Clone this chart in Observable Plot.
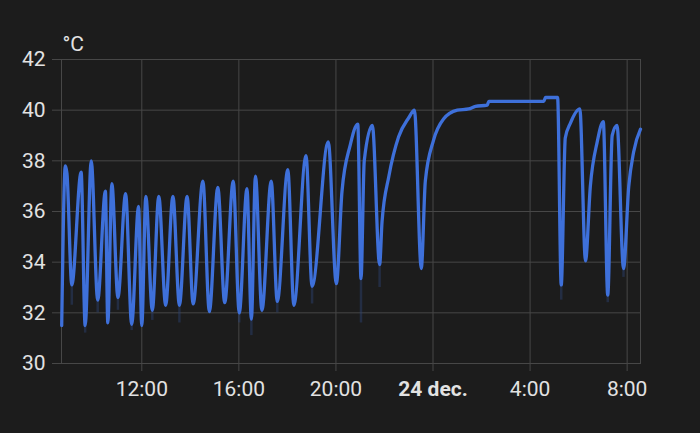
<!DOCTYPE html>
<html>
<head>
<meta charset="utf-8">
<script src="https://cdn.jsdelivr.net/npm/d3@7"></script>
<script src="https://cdn.jsdelivr.net/npm/@observablehq/plot@0.6"></script>
<style>
  html, body { margin: 0; padding: 0; background: #1c1c1c; }
  #chart { width: 700px; height: 433px; }
</style>
</head>
<body>
<div id="chart"></div>
<script>
const times = [
  "2023-12-23T08:42", "2023-12-23T08:51", "2023-12-23T08:55", "2023-12-23T09:07",
  "2023-12-23T09:30", "2023-12-23T09:40", "2023-12-23T09:55", "2023-12-23T10:11",
  "2023-12-23T10:30", "2023-12-23T10:36", "2023-12-23T10:46", "2023-12-23T11:01",
  "2023-12-23T11:20", "2023-12-23T11:35", "2023-12-23T11:52", "2023-12-23T12:00",
  "2023-12-23T12:10", "2023-12-23T12:26", "2023-12-23T12:42", "2023-12-23T12:59",
  "2023-12-23T13:17", "2023-12-23T13:33", "2023-12-23T13:52", "2023-12-23T14:07",
  "2023-12-23T14:31", "2023-12-23T14:47", "2023-12-23T15:08", "2023-12-23T15:25",
  "2023-12-23T15:46", "2023-12-23T16:01", "2023-12-23T16:20", "2023-12-23T16:31",
  "2023-12-23T16:41", "2023-12-23T16:57", "2023-12-23T17:20", "2023-12-23T17:35",
  "2023-12-23T18:01", "2023-12-23T18:16", "2023-12-23T18:46", "2023-12-23T19:01",
  "2023-12-23T19:41", "2023-12-23T20:01", "2023-12-23T20:15", "2023-12-23T20:35",
  "2023-12-23T20:54", "2023-12-23T21:02", "2023-12-23T21:10", "2023-12-23T21:30",
  "2023-12-23T21:48", "2023-12-23T21:54", "2023-12-23T22:11", "2023-12-23T22:35",
  "2023-12-23T23:00", "2023-12-23T23:14", "2023-12-23T23:31", "2023-12-23T23:41",
  "2023-12-24T00:01", "2023-12-24T00:26", "2023-12-24T01:00", "2023-12-24T01:28",
  "2023-12-24T01:45", "2023-12-24T02:14", "2023-12-24T02:18", "2023-12-24T04:34",
  "2023-12-24T04:38", "2023-12-24T05:08", "2023-12-24T05:17", "2023-12-24T05:27",
  "2023-12-24T05:40", "2023-12-24T06:03", "2023-12-24T06:17", "2023-12-24T06:29",
  "2023-12-24T06:46", "2023-12-24T07:01", "2023-12-24T07:12", "2023-12-24T07:23",
  "2023-12-24T07:35", "2023-12-24T07:51", "2023-12-24T08:04", "2023-12-24T08:16",
  "2023-12-24T08:33"
];
const temps = [
  31.5, 37.8, 37.5, 33.1,
  37.55, 31.5, 38.0, 32.5,
  36.8, 31.6, 37.1, 32.6,
  36.7, 31.55, 36.2, 31.5,
  36.6, 32.1, 36.6, 32.3,
  36.6, 32.3, 36.6, 32.35,
  37.2, 32.05, 36.95, 32.4,
  37.2, 32.0, 36.9, 31.75,
  37.4, 32.1, 37.2, 32.45,
  37.65, 32.3, 38.2, 33.05,
  38.75, 33.15, 36.8, 38.6,
  39.45, 33.35, 38.0, 39.4,
  33.9, 35.6, 37.4, 38.95,
  39.7, 40.0, 33.75, 37.2,
  38.8, 39.65, 40.0, 40.05,
  40.15, 40.2, 40.35, 40.35,
  40.5, 40.5, 33.1, 38.9,
  39.5, 40.05, 34.05, 37.0,
  38.75, 39.55, 32.7, 39.0,
  39.4, 33.75, 37.0, 38.35,
  39.25
];
// faint minimum traces below some troughs
const minTimes = [
  "2023-12-23T09:07", "2023-12-23T09:40", "2023-12-23T10:11", "2023-12-23T11:01",
  "2023-12-23T11:35", "2023-12-23T12:26", "2023-12-23T13:33", "2023-12-23T16:01",
  "2023-12-23T16:31", "2023-12-23T17:35", "2023-12-23T19:01", "2023-12-23T21:02",
  "2023-12-23T21:48", "2023-12-24T05:17", "2023-12-24T07:12", "2023-12-24T07:51"
];
const minTops = [33.1, 31.5, 32.5, 32.6, 31.55, 32.1, 32.3, 32.0, 31.75, 32.45, 33.05, 33.35, 33.9, 33.1, 32.7, 33.75];
const minValues = [32.3, 31.2, 32.0, 32.1, 31.3, 31.7, 31.6, 31.6, 31.1, 32.0, 32.35, 31.6, 33.0, 32.5, 32.4, 33.4];

const yTicks = [30, 32, 34, 36, 38, 40, 42];
const xTickTimes = ["2023-12-23T12:00", "2023-12-23T16:00", "2023-12-23T20:00", "2023-12-24T00:00", "2023-12-24T04:00", "2023-12-24T08:00"];
const xTickLabels = ["12:00", "16:00", "20:00", "24 dec.", "4:00", "8:00"];
const unitLabel = "°C";

const data = times.map((t, i) => ({t: new Date(t), v: temps[i]}));
const mins = minTimes.map((t, i) => ({t: new Date(t), top: minTops[i], lo: minValues[i]}));
const xTicks = xTickTimes.map(s => new Date(s));
const labelOf = new Map(xTicks.map((d, i) => [+d, xTickLabels[i]]));
const boldTicks = xTicks.filter(d => d.getHours() === 0);
const normalTicks = xTicks.filter(d => d.getHours() !== 0);

const grid = "#474747";
const textColor = "#e2e2e2";

const chart = Plot.plot({
  width: 700,
  height: 433,
  marginLeft: 61,
  marginRight: 60,
  marginTop: 59,
  marginBottom: 70,
  style: {background: "#1c1c1c", color: textColor, fontFamily: "Roboto, sans-serif", fontSize: "21px"},
  x: {type: "time", domain: [new Date("2023-12-23T08:41:30"), new Date("2023-12-24T08:33")]},
  y: {domain: [30, 42]},
  marks: [
    Plot.gridY(yTicks, {stroke: grid, strokeOpacity: 1}),
    Plot.gridX(xTicks, {stroke: grid, strokeOpacity: 1}),
    Plot.frame({stroke: grid}),
    Plot.axisY(yTicks, {tickSize: 9, tickPadding: 7, stroke: grid, fill: textColor, label: null, fontSize: 21}),
    Plot.axisX(normalTicks, {tickSize: 8, tickPadding: 10, stroke: grid, fill: textColor, label: null, fontSize: 21, tickFormat: d => labelOf.get(+d)}),
    Plot.axisX(boldTicks, {tickSize: 8, tickPadding: 10, stroke: grid, fill: textColor, label: null, fontSize: 21, fontWeight: "bold", tickFormat: d => labelOf.get(+d)}),
    Plot.ruleX(mins, {x: "t", y1: "top", y2: "lo", stroke: "#2c4373", strokeOpacity: 0.45, strokeWidth: 2.5}),
    Plot.line(data, {x: "t", y: "v", stroke: "#3e70da", strokeWidth: 3.3, curve: "monotone-x"}),
    Plot.text([unitLabel], {frameAnchor: "top-left", textAnchor: "start", dy: -23, dx: 1, fill: textColor, fontSize: 21})
  ]
});
document.getElementById("chart").appendChild(chart);
</script>
</body>
</html>
